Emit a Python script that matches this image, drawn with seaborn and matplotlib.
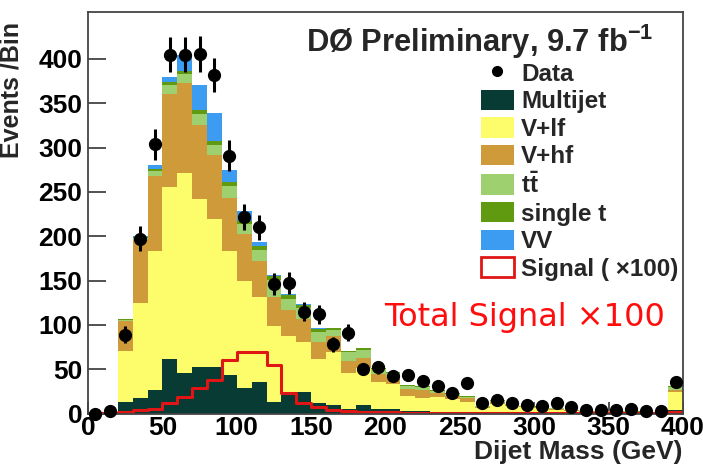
import numpy as np
import pandas as pd
import matplotlib
matplotlib.use("Agg")
import matplotlib.pyplot as plt
import seaborn as sns
from matplotlib.patches import Patch
from matplotlib.lines import Line2D
from matplotlib.ticker import MultipleLocator, FixedLocator

# ---------------- data (10 GeV bins, 0-400 GeV) ----------------
bin_edges = list(range(0, 410, 10))
multijet = [0, 0, 13, 17, 27, 62, 46, 53, 52, 43, 29, 35, 13, 21, 24, 12, 10, 5, 10, 5,
            5, 3, 3, 2, 2, 2, 1, 1, 1, 1, 1, 1, 0.5, 0.5, 0.5, 0.5, 0.5, 0.4, 0.4, 4]
v_lf = [0, 0, 57, 108, 156, 193, 225, 189, 168, 140, 121, 96, 86, 67, 57, 50, 59, 41, 41, 30,
        28, 17, 14, 17, 14, 11, 5, 10, 7, 6, 5, 3.5, 2.5, 1.7, 1.7, 1.5, 1.3, 1.2, 1.1, 20]
v_hf = [0, 0, 34, 71, 85, 106, 102, 83, 72, 60, 52, 41, 32, 29, 26, 19, 18, 13, 12, 10,
        8, 8, 9, 4, 4, 4, 1, 2, 1.5, 1, 1, 0.7, 0.5, 0.4, 0.4, 0.4, 0.4, 0.4, 0.4, 2]
ttbar = [0, 0, 2, 2, 6, 10, 10, 13, 11, 14, 12, 12, 20, 12, 12, 11, 7, 10, 9, 5,
         5, 3, 4, 2, 2, 2, 1, 1, 1, 1, 0.5, 0.6, 0.3, 0.3, 0.3, 0.3, 0.2, 0.2, 0.2, 4]
single_t = [0, 0, 1, 1, 2, 3, 3, 4, 4, 4, 3, 5, 4, 5, 3, 3, 3, 2, 2, 1,
            1, 1, 1, 1, 1, 1, 0, 1, 0.5, 0, 0.5, 0.2, 0.2, 0.1, 0.1, 0.1, 0.1, 0.1, 0.1, 1]
vv = [0, 0, 0, 1, 4, 6, 19, 29, 32, 14, 11, 5, 1, 1, 1, 1, 0, 0, 0, 0,
      0, 0, 0, 0, 0, 0, 0, 0, 0, 0, 0, 0, 0, 0, 0, 0, 0, 0, 0, 0]
signal_x100 = [0.3, 1, 2, 4, 5, 12, 19, 29, 38, 60, 69, 69, 55, 23, 12, 7, 4.5, 3, 2, 1.5,
               1.2, 1, 1, 0.8, 0.8, 0.7, 0.6, 0.6, 0.5, 0.5, 0.5, 0.4, 0.4, 0.4, 0.3, 0.3,
               0.3, 0.3, 0.3, 1.5]
data_counts = [0, 3, 89, 197, 304, 405, 405, 406, 382, 291, 222, 210, 146, 147, 115, 112,
               78, 91, 50, 52, 42, 44, 37, 31, 23, 34, 12, 15, 12, 10, 8, 12, 7, 4, 4, 4,
               5, 3, 3, 35]

process_names = ["Multijet", "V+lf", "V+hf", r"$\mathbf{t\bar{t}}$", "single t", "VV"]
process_values = [multijet, v_lf, v_hf, ttbar, single_t, vv]
process_colors = ["#083b34", "#fdfd6c", "#cf9a3a", "#9fd070", "#5f9a10", "#3c9cf2"]
signal_color = "#e01515"

x_ticks = [0, 50, 100, 150, 200, 250, 300, 350, 400]
y_ticks = [0, 50, 100, 150, 200, 250, 300, 350, 400]

# ---------------- build tables ----------------
edges = np.array(bin_edges, dtype=float)
centers = 0.5 * (edges[:-1] + edges[1:])
bin_w = float(edges[1] - edges[0])
x_range = (float(edges[0]), float(edges[-1]))
rows = []
for name, vals in zip(process_names, process_values):
    for c, v in zip(centers, vals):
        rows.append({"mass": c, "events": v, "process": name})
bkg = pd.DataFrame(rows)
sig = pd.DataFrame({"mass": centers, "events": signal_x100})
dat = pd.DataFrame({"mass": centers, "events": data_counts})

# ---------------- style ----------------
sns.set_theme(style="white")
plt.rcParams["font.family"] = ["Liberation Sans", "DejaVu Sans"]
plt.rcParams["font.weight"] = "bold"
plt.rcParams["mathtext.fontset"] = "custom"
plt.rcParams["mathtext.rm"] = "Liberation Sans:bold"
plt.rcParams["mathtext.bf"] = "Liberation Sans:bold"
plt.rcParams["mathtext.it"] = "Liberation Sans:bold"

fig = plt.figure(figsize=(7.03, 4.66), dpi=100)
ax = fig.add_axes([88 / 703, 1 - 413.5 / 466, 595 / 703, 401.5 / 466])

# stacked backgrounds: seaborn puts the first hue level on top -> reverse order
hue_order = process_names[::-1]
palette = dict(zip(process_names, process_colors))
sns.histplot(data=bkg, x="mass", weights="events", hue="process", hue_order=hue_order,
             palette=palette, binwidth=bin_w, binrange=x_range, multiple="stack",
             element="bars", fill=True, alpha=1, linewidth=0, edgecolor="none",
             legend=False, ax=ax)

# signal x100
sns.histplot(data=sig, x="mass", weights="events", binwidth=bin_w, binrange=x_range,
             element="step", fill=False, color=signal_color, linewidth=2.2, ax=ax)

# data points
err = np.sqrt(dat["events"].to_numpy())
ax.errorbar(dat["mass"], dat["events"], yerr=err, fmt="o", color="black",
            markersize=8.5, elinewidth=2.2, capsize=0, zorder=10, clip_on=False)

# ---------------- axes ----------------
ax.set_xlim(0, 400)
ax.set_ylim(0, 453)
ax.xaxis.set_major_locator(FixedLocator(x_ticks))
ax.xaxis.set_minor_locator(MultipleLocator(10))
ax.yaxis.set_major_locator(FixedLocator(y_ticks))
ax.yaxis.set_minor_locator(MultipleLocator(10))
ax.tick_params(axis="both", which="both", direction="in", colors="#333333",
               labelcolor="black", labelsize=19)
ax.tick_params(axis="y", which="major", length=13, width=1.2, pad=4)
ax.tick_params(axis="y", which="minor", length=6.5, width=1.0)
ax.tick_params(axis="x", which="major", length=9, width=1.2, pad=2)
ax.tick_params(axis="x", which="minor", length=5, width=1.0)
ax.tick_params(left=True, bottom=True)
for lbl in ax.get_xticklabels() + ax.get_yticklabels():
    lbl.set_fontweight("bold")
for s in ax.spines.values():
    s.set_color("#444444")
    s.set_linewidth(1.3)

ax.set_xlabel("Dijet Mass (GeV)", fontsize=19, fontweight="bold", loc="right")
ax.xaxis.set_label_coords(1.0, -0.066)
ax.set_ylabel("Events /Bin", fontsize=18, fontweight="bold", loc="top")
ax.yaxis.set_label_coords(-0.108, 0.975)

ax.text(0.366, 0.925, r"DØ Preliminary, 9.7 fb$^{\mathbf{-1}}$", transform=ax.transAxes,
        fontsize=22.2, fontweight="bold", ha="left", va="center")

ax.text(0.498, 0.238, "Total Signal ×100", transform=ax.transAxes, color="#ff0c0c",
        fontsize=23, fontweight="normal", family=["DejaVu Sans"], ha="left", va="center")

# legend
handles = [Line2D([], [], marker="o", color="black", linestyle="none", markersize=7)]
handles += [Patch(facecolor=c, edgecolor="none") for c in process_colors]
handles += [Patch(facecolor="white", edgecolor=signal_color, linewidth=2)]
labels = ["Data"] + process_names + ["Signal ( ×100)"]
leg = ax.legend(handles, labels, loc="upper left", bbox_to_anchor=(0.66, 0.875),
                frameon=False, fontsize=17.5, handlelength=1.36, handleheight=0.9,
                handletextpad=0.3, labelspacing=0.17, borderpad=0, borderaxespad=0)
for t in leg.get_texts():
    t.set_fontweight("bold")

fig.savefig("out.png", dpi=100)
